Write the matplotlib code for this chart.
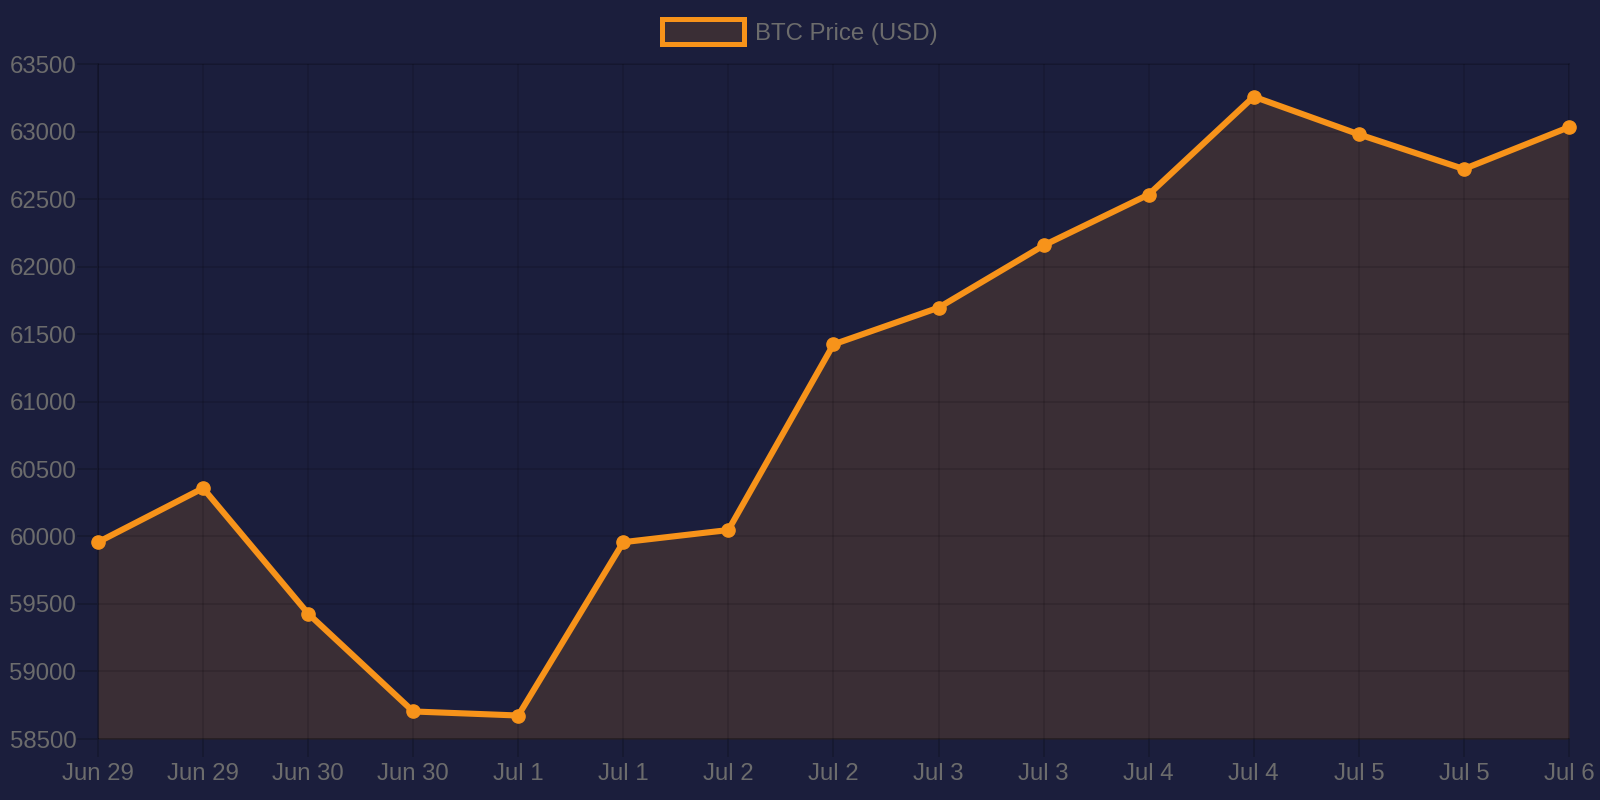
import matplotlib
matplotlib.use("Agg")
import matplotlib.pyplot as plt
from matplotlib.patches import Patch

labels = ["Jun 29", "Jun 29", "Jun 30", "Jun 30", "Jul 1", "Jul 1", "Jul 2", "Jul 2",
          "Jul 3", "Jul 3", "Jul 4", "Jul 4", "Jul 5", "Jul 5", "Jul 6"]
prices = [59958, 60358, 59429, 58704, 58674, 59958, 60048, 61423,
          61695, 62156, 62533, 63258, 62979, 62722, 63032]
y_ticks = [58500, 59000, 59500, 60000, 60500, 61000, 61500, 62000, 62500, 63000, 63500]

BG = "#1b1e3c"
FILL = "#3a2e35"
ORANGE = "#f7931a"
TICK = "#15182f"
TEXT = "#6c6c6c"

plt.rcParams["font.family"] = ["Liberation Sans", "DejaVu Sans"]

fig = plt.figure(figsize=(16, 8), dpi=100, facecolor=BG)
ax = fig.add_axes([0.06125, 0.07625, 0.91935, 0.84375])
ax.set_facecolor(BG)

x = list(range(len(prices)))
ax.fill_between(x, prices, y_ticks[0], color=FILL, zorder=2, linewidth=0)
ax.plot(x, prices, color=ORANGE, linewidth=4.4, marker="o", markersize=9.5,
        solid_joinstyle="miter", zorder=3, clip_on=False)

ax.set_xlim(0, len(prices) - 1)
ax.set_ylim(y_ticks[0], y_ticks[-1])
ax.set_xticks(x)
ax.set_xticklabels(labels)
ax.set_yticks(y_ticks)
ax.set_yticklabels([str(v) for v in y_ticks])

ax.set_axisbelow(False)
ax.grid(True, color="black", alpha=0.13, linewidth=1.2)
for name, s in ax.spines.items():
    s.set_color("black")
    s.set_alpha(0.25 if name in ("left", "bottom") else 0.13)
    s.set_linewidth(1.2)
    s.set_zorder(2.5)

ax.tick_params(axis="x", length=13, width=1.2, color=TICK, pad=4,
               labelsize=17.3, labelcolor=TEXT)
ax.tick_params(axis="y", length=15, width=1.2, color=TICK, pad=0.6,
               labelsize=17.3, labelcolor=TEXT)

handle = Patch(facecolor=FILL, edgecolor=ORANGE, linewidth=3.6)
leg = fig.legend([handle], ["BTC Price (USD)"], loc="upper center",
                 bbox_to_anchor=(0.5, 1.003), frameon=False, fontsize=17.3,
                 handlelength=3.4, handleheight=1.2, handletextpad=0.45,
                 labelcolor=TEXT)

fig.savefig("out.png", dpi=100, facecolor=BG)
